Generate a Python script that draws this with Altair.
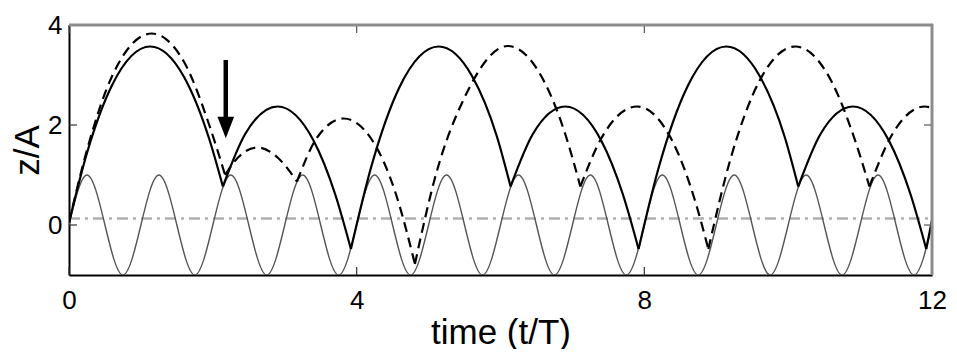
import altair as alt
import pandas as pd

# ---- data ----
# thin drive signal (sampled at quarter periods)
sine_t = [0, 0.25, 0.5, 0.75, 1, 1.25, 1.5, 1.75, 2, 2.25, 2.5, 2.75, 3, 3.25, 3.5, 3.75,
          4, 4.25, 4.5, 4.75, 5, 5.25, 5.5, 5.75, 6, 6.25, 6.5, 6.75, 7, 7.25, 7.5, 7.75,
          8, 8.25, 8.5, 8.75, 9, 9.25, 9.5, 9.75, 10, 10.25, 10.5, 10.75, 11, 11.25, 11.5, 11.75, 12]
sine_z = [0, 1, 0, -1, 0, 1, 0, -1, 0, 1, 0, -1, 0, 1, 0, -1,
          0, 1, 0, -1, 0, 1, 0, -1, 0, 1, 0, -1, 0, 1, 0, -1,
          0, 1, 0, -1, 0, 1, 0, -1, 0, 1, 0, -1, 0, 1, 0, -1, 0]

# solid trajectory: one list per flight arc
solid_arcs = [
    ([0, 0.25, 0.6, 1.13, 1.6, 1.95, 2.14], [0.05, 1.44, 2.8, 3.57, 2.96, 1.72, 0.77]),
    ([2.14, 2.45, 2.9, 3.4, 3.7, 3.92], [0.77, 1.82, 2.37, 1.69, 0.62, -0.48]),
    ([3.92, 4.2, 4.6, 5.14, 5.6, 5.95, 6.14], [-0.48, 1.15, 2.77, 3.57, 2.99, 1.77, 0.77]),
    ([6.14, 6.45, 6.9, 7.4, 7.7, 7.92], [0.77, 1.82, 2.37, 1.69, 0.62, -0.48]),
    ([7.92, 8.2, 8.6, 9.14, 9.6, 9.95, 10.14], [-0.48, 1.15, 2.77, 3.57, 2.99, 1.77, 0.77]),
    ([10.14, 10.45, 10.9, 11.4, 11.7, 11.92], [0.77, 1.82, 2.37, 1.69, 0.62, -0.48]),
    ([11.92, 12.0], [-0.48, 0.1]),
]

# dashed trajectory
dashed_arcs = [
    ([0, 0.25, 0.6, 1.15, 1.6, 1.95, 2.17], [0.05, 1.5, 2.98, 3.83, 3.26, 2.0, 1.0]),
    ([2.17, 2.35, 2.62, 2.9, 3.17], [1.0, 1.35, 1.55, 1.35, 0.87]),
    ([3.17, 3.45, 3.82, 4.2, 4.55, 4.81], [0.87, 1.75, 2.13, 1.73, 0.6, -0.78]),
    ([4.81, 5.1, 5.5, 6.1, 6.6, 6.9, 7.11], [-0.78, 1.0, 2.55, 3.58, 2.89, 1.82, 0.77]),
    ([7.11, 7.4, 7.9, 8.4, 8.7, 8.89], [0.77, 1.73, 2.37, 1.65, 0.51, -0.48]),
    ([8.89, 9.2, 9.6, 10.1, 10.6, 10.9, 11.13], [-0.48, 1.33, 2.88, 3.57, 2.88, 1.82, 0.77]),
    ([11.13, 11.45, 11.9, 12.0], [0.77, 1.82, 2.37, 2.34]),
]

threshold_z = 0.13
arrow_t = 2.18
arrow_top = 3.3
arrow_head_center = 1.95

x_ticks = [0, 4, 8, 12]
y_ticks = [0, 2, 4]

# ---- build tables ----
W, H = 863, 250
FONT = "Liberation Sans"

def arcs_df(arcs):
    rows = []
    for i, (ts, zs) in enumerate(arcs):
        for j, (t, z) in enumerate(zip(ts, zs)):
            rows.append({"t": t, "z": z, "arc": i, "order": j})
    return pd.DataFrame(rows)

sine_df = pd.DataFrame({"t": sine_t, "z": sine_z})
solid_df = arcs_df(solid_arcs)
dashed_df = arcs_df(dashed_arcs)

xs = alt.Scale(domain=[0, 12], nice=False, zero=False)
ys = alt.Scale(domain=[-1, 4], nice=False, zero=False)

x_axis = alt.Axis(values=x_ticks, format="d", title="time (t/T)", grid=False, ticks=False,
                  domainColor="black", domainWidth=2, labelFont=FONT, labelFontSize=26,
                  labelColor="black", labelPadding=12, titleFont=FONT, titleFontSize=35,
                  titleFontWeight="normal", titleColor="black", titlePadding=2,
                  labelFlush=False)
y_axis = alt.Axis(values=y_ticks, format="d", title="z/A", grid=False, ticks=False,
                  domainColor="black", domainWidth=2, labelFont=FONT, labelFontSize=26,
                  labelColor="black", labelPadding=7, titleFont=FONT, titleFontSize=35,
                  titleFontWeight="normal", titleColor="black", titlePadding=2,
                  labelFlush=False)

sine = alt.Chart(sine_df).mark_line(
    interpolate="natural", color="#555555", strokeWidth=1.4, clip=True
).encode(
    x=alt.X("t:Q", scale=xs, axis=x_axis),
    y=alt.Y("z:Q", scale=ys, axis=y_axis),
)

solid = alt.Chart(solid_df).mark_line(
    interpolate="monotone", color="black", strokeWidth=2.2, clip=True
).encode(
    x=alt.X("t:Q", scale=xs), y=alt.Y("z:Q", scale=ys),
    detail="arc:N", order="order:Q",
)

dashed = alt.Chart(dashed_df).mark_line(
    interpolate="monotone", color="black", strokeWidth=2.2, strokeDash=[10, 6], clip=True
).encode(
    x=alt.X("t:Q", scale=xs), y=alt.Y("z:Q", scale=ys),
    detail="arc:N", order="order:Q",
)

thresh = alt.Chart(pd.DataFrame({"z": [threshold_z]})).mark_rule(
    color="#b0b0b0", strokeWidth=2.5, strokeDash=[11, 5, 3, 5]
).encode(y=alt.Y("z:Q", scale=ys), x=alt.value(0), x2=alt.value(W))

arrow_shaft = alt.Chart(pd.DataFrame({"t": [arrow_t], "z": [arrow_top], "z2": [arrow_head_center]})).mark_rule(
    color="black", strokeWidth=4.5
).encode(x=alt.X("t:Q", scale=xs), y=alt.Y("z:Q", scale=ys), y2="z2:Q")

arrow_head = alt.Chart(pd.DataFrame({"t": [arrow_t], "z": [arrow_head_center]})).mark_point(
    shape="M-0.77,-1L0.77,-1L0,1Z", size=470, filled=True, color="black", opacity=1
).encode(x=alt.X("t:Q", scale=xs), y=alt.Y("z:Q", scale=ys))

# inside ticks
xt = pd.DataFrame({"t": x_ticks})
yt = pd.DataFrame({"z": y_ticks})
xtick_b = alt.Chart(xt).mark_rule(color="#333", strokeWidth=1.2).encode(
    x=alt.X("t:Q", scale=xs), y=alt.value(H), y2=alt.value(H - 8))
xtick_t = alt.Chart(xt).mark_rule(color="#555", strokeWidth=1.2).encode(
    x=alt.X("t:Q", scale=xs), y=alt.value(0), y2=alt.value(8))
ytick_l = alt.Chart(yt).mark_rule(color="#333", strokeWidth=1.2).encode(
    y=alt.Y("z:Q", scale=ys), x=alt.value(0), x2=alt.value(8))
ytick_r = alt.Chart(yt).mark_rule(color="#555", strokeWidth=1.2).encode(
    y=alt.Y("z:Q", scale=ys), x=alt.value(W), x2=alt.value(W - 8))

one = pd.DataFrame({"a": [0]})
top_edge = alt.Chart(one).mark_rule(color="#8c8c8c", strokeWidth=3).encode(
    x=alt.value(0), x2=alt.value(W + 1), y=alt.value(0))
right_edge = alt.Chart(one).mark_rule(color="#8c8c8c", strokeWidth=3).encode(
    x=alt.value(W), y=alt.value(-1), y2=alt.value(H))

chart = alt.layer(
    thresh, sine, dashed, solid, arrow_shaft, arrow_head,
    xtick_b, xtick_t, ytick_l, ytick_r, top_edge, right_edge
).properties(
    width=W, height=H,
    autosize=alt.AutoSizeParams(type="none"),
    padding={"left": 61, "top": 17, "right": 17, "bottom": 74},
).configure_view(stroke=None).configure(background="white")

chart.save("out.html", embed_options={"renderer": "svg", "actions": False})
